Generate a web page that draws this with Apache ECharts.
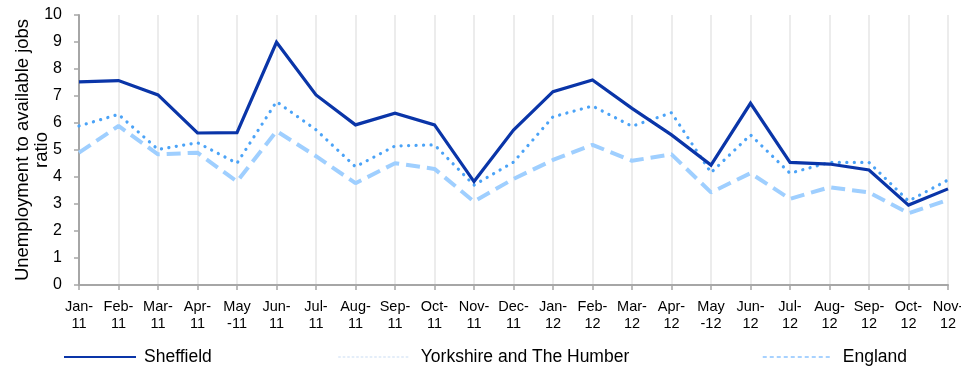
<!DOCTYPE html>
<html>
<head>
<meta charset="utf-8">
<script src="https://cdn.jsdelivr.net/npm/echarts@6/dist/echarts.min.js"></script>
<style>
  html, body { margin: 0; padding: 0; background: #ffffff; }
  #chart { width: 961px; height: 366px; }
</style>
</head>
<body>
<div id="chart"></div>
<script>
// Monthly claimant-to-vacancy ratio, Jan 2011 – Nov 2012
const months = [
  'Jan-\n11', 'Feb-\n11', 'Mar-\n11', 'Apr-\n11', 'May\n-11', 'Jun-\n11',
  'Jul-\n11', 'Aug-\n11', 'Sep-\n11', 'Oct-\n11', 'Nov-\n11', 'Dec-\n11',
  'Jan-\n12', 'Feb-\n12', 'Mar-\n12', 'Apr-\n12', 'May\n-12', 'Jun-\n12',
  'Jul-\n12', 'Aug-\n12', 'Sep-\n12', 'Oct-\n12', 'Nov-\n12'
];
const sheffield = [7.52, 7.57, 7.04, 5.63, 5.64, 8.99, 7.04, 5.93, 6.36, 5.93, 3.83, 5.74,
                   7.16, 7.59, 6.54, 5.56, 4.44, 6.73, 4.54, 4.48, 4.26, 2.96, 3.56];
const yorkshire = [5.89, 6.32, 5.02, 5.27, 4.51, 6.79, 5.75, 4.38, 5.15, 5.19, 3.70, 4.55,
                   6.23, 6.63, 5.88, 6.38, 4.16, 5.56, 4.14, 4.54, 4.54, 3.11, 3.89];
const england   = [4.90, 5.89, 4.84, 4.90, 3.83, 5.70, 4.77, 3.77, 4.51, 4.30, 3.09, 3.93,
                   4.63, 5.19, 4.60, 4.84, 3.43, 4.14, 3.19, 3.62, 3.43, 2.66, 3.15];
const yTicks = { min: 0, max: 10, interval: 1 };
const seriesNames = ['Sheffield', 'Yorkshire and The Humber', 'England'];

const FONT = '"Liberation Sans", Arial, sans-serif';
const axisGrey = '#a6a6a6';

const chart = echarts.init(document.getElementById('chart'), null, { renderer: 'canvas' });

// One legend block per series so each key sits at its own column
function legendFor(name, left, width, textPad, lineStyle) {
  return {
    left: left,
    top: 348,
    padding: 0,
    itemWidth: width,
    itemHeight: 14,
    itemGap: 0,
    textStyle: { fontFamily: FONT, fontSize: 17.5, color: '#000', padding: [0, 0, 0, textPad] },
    selectedMode: false,
    data: [{ name: name, lineStyle: lineStyle, itemStyle: { opacity: 0 } }]
  };
}

chart.setOption({
  animation: false,
  backgroundColor: '#ffffff',
  grid: { left: 79, right: 13, top: 15, bottom: 81, containLabel: false, outerBoundsMode: 'none' },
  legend: [
    legendFor(seriesNames[0], 63, 72, 3, { color: '#0a35a8', width: 2, type: 'solid' }),
    legendFor(seriesNames[1], 338, 70, 7, { color: '#dbe8f7', width: 1.5, type: [1.5, 3] }),
    legendFor(seriesNames[2], 762, 68, 7, { color: '#8cc4ff', width: 1.5, type: [4, 3] })
  ],
  xAxis: {
    type: 'category',
    data: months,
    boundaryGap: false,
    axisLine: { lineStyle: { color: axisGrey, width: 2 } },
    axisTick: { show: true, alignWithLabel: true, length: 5, lineStyle: { color: axisGrey, width: 1.5 } },
    axisLabel: {
      interval: 0,
      margin: 13,
      fontFamily: FONT,
      fontSize: 14.5,
      lineHeight: 17,
      color: '#000'
    },
    splitLine: { show: true, lineStyle: { color: '#e6e6e6', width: 1.5 } }
  },
  yAxis: {
    type: 'value',
    min: yTicks.min,
    max: yTicks.max,
    interval: yTicks.interval,
    name: 'Unemployment to available jobs\nratio',
    nameLocation: 'middle',
    nameRotate: 90,
    nameGap: 28,
    nameMoveOverlap: false,
    nameTextStyle: { fontFamily: FONT, fontSize: 18.5, lineHeight: 19, color: '#000' },
    axisLine: { show: true, lineStyle: { color: axisGrey, width: 2 } },
    axisTick: { show: true, length: 5, lineStyle: { color: axisGrey, width: 1.5 } },
    axisLabel: { margin: 17, fontFamily: FONT, fontSize: 16, color: '#000' },
    splitLine: { show: false }
  },
  series: [
    {
      name: seriesNames[0],
      type: 'line',
      data: sheffield,
      symbol: 'none',
      z: 3,
      lineStyle: { color: '#0a35a8', width: 3.2, join: 'miter' },
      itemStyle: { color: '#0a35a8' }
    },
    {
      name: seriesNames[1],
      type: 'line',
      data: yorkshire,
      symbol: 'none',
      z: 2,
      lineStyle: { color: '#4ba3f7', width: 3.2, type: [0.1, 7.4], cap: 'round' },
      itemStyle: { color: '#4ba3f7' }
    },
    {
      name: seriesNames[2],
      type: 'line',
      data: england,
      symbol: 'none',
      z: 1,
      lineStyle: { color: '#9fcfff', width: 4, type: [14, 7], cap: 'butt' },
      itemStyle: { color: '#9fcfff' }
    }
  ]
});
</script>
</body>
</html>
